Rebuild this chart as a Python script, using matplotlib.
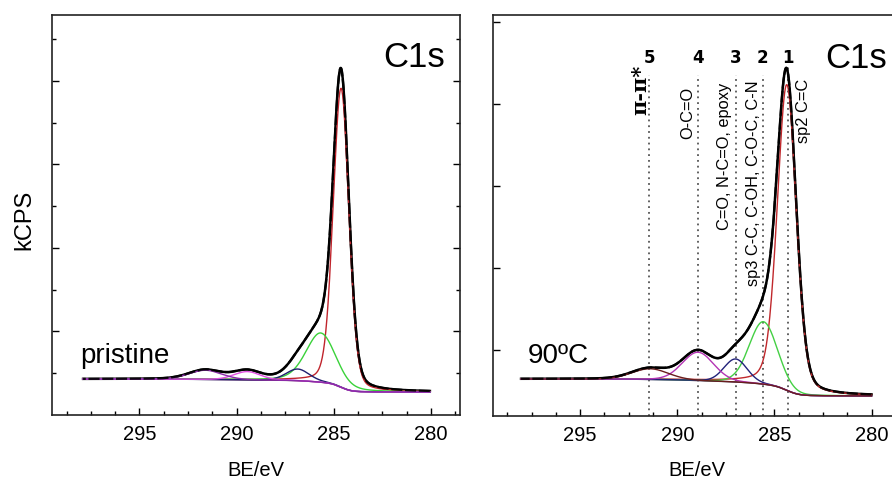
import numpy as np
import matplotlib
matplotlib.use("Agg")
import matplotlib.pyplot as plt
from matplotlib import font_manager
from matplotlib.ticker import MultipleLocator, FixedLocator

# ---------------- data ----------------
# fitted C1s components: 1 sp2, 2 sp3, 3 C=O, 4 O-C=O, 5 pi-pi*
left_centers = [284.62, 285.67, 286.85, 289.45, 291.6]
left_heights = [3.58, 0.59, 0.14, 0.10, 0.11]
left_fwhm = [0.95, 1.8, 1.4, 1.6, 2.0]
left_eta = [0.2, 0.3, 0.2, 0.2, 0.2]
left_bg_levels = [0.43, 0.275]       # high-BE side, low-BE side
left_span = [297.9, 280.05]

right_centers = [284.36, 285.57, 287.0, 288.93, 291.4]
right_heights = [3.72, 0.76, 0.28, 0.345, 0.13]
right_fwhm = [1.15, 1.7, 1.4, 1.9, 2.2]
right_eta = [0.25, 0.1, 0.1, 0.1, 0.1]
right_bg_levels = [0.45, 0.244]
right_span = [298.04, 280.0]

marker_pos = [284.3, 285.6, 286.97, 288.92, 291.44]
marker_num = ["1", "2", "3", "4", "5"]
marker_text = ["sp2 C=C", "sp3 C-C, C-OH, C-O-C, C-N", "C=O, N-C=O, epoxy",
               "O-C=O", None]
xticks = [295, 290, 285, 280]

left_colors = ["#c0242c", "#3ad23a", "#1e1e6e", "#e050e0", "#8a2aa8"]
right_colors = ["#c0282c", "#44d044", "#22227a", "#b434b4", "#6a1e1e"]


def pv(x, c, h, f, eta):
    g = np.exp(-4 * np.log(2) * ((x - c) / f) ** 2)
    l = 1.0 / (1.0 + 4 * ((x - c) / f) ** 2)
    return h * (eta * l + (1 - eta) * g)


def spectrum(span, centers, heights, fwhm, eta, bg_levels):
    x = np.linspace(min(span), max(span), 900)
    comps = [pv(x, c, h, f, e) for c, h, f, e in zip(centers, heights, fwhm, eta)]
    total = np.sum(comps, axis=0)
    cum = np.cumsum(total)
    frac = cum / cum[-1]
    bg = bg_levels[1] + (bg_levels[0] - bg_levels[1]) * frac
    return x, comps, total, bg


def has_font(name):
    try:
        font_manager.findfont(font_manager.FontProperties(family=name),
                              fallback_to_default=False)
        return True
    except Exception:
        return False


if has_font('Liberation Sans Narrow'):
    label_family, label_size = ['Liberation Sans Narrow', 'DejaVu Sans'], 14.5
elif has_font('DejaVu Sans Condensed'):
    label_family, label_size = ['DejaVu Sans Condensed', 'DejaVu Sans'], 13
else:
    label_family, label_size = ['Liberation Sans', 'DejaVu Sans'], 11.8

plt.rcParams['font.family'] = ['Liberation Sans', 'DejaVu Sans']

fig = plt.figure(figsize=(8.92, 4.79), dpi=100)
axL = fig.add_axes([52 / 892, 64 / 479, 408 / 892, 400 / 479])
axR = fig.add_axes([492.7 / 892, 63 / 479, 408 / 892, 401 / 479])


def style(ax):
    ax.set_xlim(299.5, 278.5)
    ax.xaxis.set_major_locator(FixedLocator(xticks))
    ax.xaxis.set_minor_locator(MultipleLocator(1.25))
    ax.tick_params(axis='x', which='both', direction='in', top=False,
                   labelsize=14.5, pad=7, width=1.0)
    ax.tick_params(axis='x', which='major', length=5)
    ax.tick_params(axis='x', which='minor', length=3)
    for s in ax.spines.values():
        s.set_linewidth(1.2)
        s.set_color('#222222')
    ax.set_xticklabels([str(t) for t in xticks])


# ---------------- left panel ----------------
style(axL)
axL.set_ylim(0, 4.79)
axL.yaxis.set_major_locator(FixedLocator([1, 2, 3, 4]))
axL.yaxis.set_minor_locator(FixedLocator([0.5, 1.5, 2.5, 3.5, 4.5]))
axL.tick_params(axis='y', which='both', direction='in', left=True, right=True,
                labelleft=False, width=1.0)
axL.tick_params(axis='y', which='major', length=5)
axL.tick_params(axis='y', which='minor', length=3)

x, comps, total, bg = spectrum(left_span, left_centers, left_heights,
                               left_fwhm, left_eta, left_bg_levels)
axL.plot(x, total + bg, color='black', lw=1.8, zorder=2)
axL.plot(x, bg, color='#5a1a5a', lw=1.0, zorder=3)
for comp, col in zip(comps, left_colors):
    axL.plot(x, comp + bg, color=col, lw=1.0, zorder=3)
axL.plot(x, total + bg, color='black', lw=1.6, zorder=4,
         dashes=(5, 1.2), alpha=0.9)

axL.text(0.963, 0.87, "C1s", transform=axL.transAxes, fontsize=25,
         ha='right', va='baseline')
axL.text(0.069, 0.13, "pristine", transform=axL.transAxes, fontsize=20,
         ha='left', va='baseline')

# ---------------- right panel ----------------
style(axR)
axR.set_ylim(0, 4.88)
axR.yaxis.set_major_locator(FixedLocator([0.8, 1.8, 2.8, 3.8, 4.8]))
axR.yaxis.set_minor_locator(FixedLocator([]))
axR.tick_params(axis='y', which='both', direction='in', left=True, right=True,
                labelleft=False, length=5, width=1.0)

x, comps, total, bg = spectrum(right_span, right_centers, right_heights,
                               right_fwhm, right_eta, right_bg_levels)
axR.plot(x, total + bg, color='black', lw=1.8, zorder=2)
axR.plot(x, bg, color='#3a2a4a', lw=1.0, zorder=3)
for comp, col in zip(comps, right_colors):
    axR.plot(x, comp + bg, color=col, lw=1.0, zorder=3)
axR.plot(x, total + bg, color='black', lw=1.6, zorder=4,
         dashes=(5, 1.2), alpha=0.9)

line_tops = [4.25, 4.15, 4.15, 4.15, 4.15]
for xp, top in zip(marker_pos, line_tops):
    axR.plot([xp, xp], [0, top], color='#555555', lw=1.3,
             linestyle=(0, (1, 2.2)), zorder=1)
for xp, n in zip(marker_pos, marker_num):
    axR.text(xp, 4.36, n, fontsize=12, fontweight='bold', ha='center',
             va='center', family=['DejaVu Sans'])

text_x = [283.52, 286.1, 287.55, 289.45, 291.92]
text_top = [4.11, 4.09, 4.06, 4.0, 4.27]
for xt, yt, t in zip(text_x, text_top, marker_text):
    if t is None:
        continue
    axR.text(xt, yt, t, rotation=90, ha='center', va='top',
             fontsize=label_size, family=label_family)
# pi-pi* label (serif Greek letters)
axR.text(text_x[4], text_top[4], "π-π*", rotation=90, ha='center', va='top',
         fontsize=15, fontweight='bold', family=['DejaVu Serif'])

axR.text(0.966, 0.868, "C1s", transform=axR.transAxes, fontsize=25,
         ha='right', va='baseline')
axR.text(0.0865, 0.132, "90ºC", transform=axR.transAxes, fontsize=20,
         ha='left', va='baseline')

# axis titles
fig.text(24 / 892, 1 - 220 / 479, "kCPS", rotation=90, fontsize=17,
         ha='center', va='center')
fig.text(256 / 892, 1 - 471 / 479, "BE/eV", fontsize=14.5, ha='center',
         va='center')
fig.text(697 / 892, 1 - 471 / 479, "BE/eV", fontsize=14.5, ha='center',
         va='center')

fig.savefig("out.png", dpi=100)
